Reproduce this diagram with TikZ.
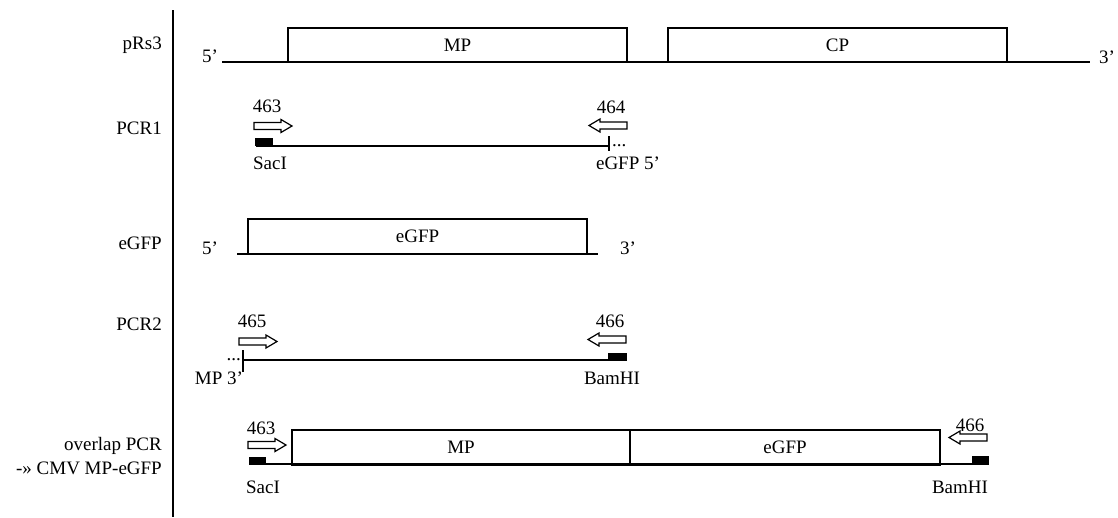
\documentclass[tikz,border=0pt]{standalone}
\usepackage{fontspec}
\setmainfont{Liberation Serif}
\begin{document}
\begin{tikzpicture}[x=1pt,y=-1pt,
  dna/.style={line width=2pt},
  box/.style={draw,line width=1.8pt,fill=white,inner sep=0pt},
  site/.style={fill=black},
  lbl/.style={inner sep=0pt,font=\fontsize{19}{22}\selectfont},
  rowlbl/.style={lbl,anchor=east},
  fwdprimer/.pic={\draw[line width=1.2pt,fill=white] (0,-3.5) -- (27,-3.5) -- (27,-6.5) -- (38,0) -- (27,6.5) -- (27,3.5) -- (0,3.5) -- cycle;},
  revprimer/.pic={\draw[line width=1.2pt,fill=white] (38,-3.5) -- (11,-3.5) -- (11,-6.5) -- (0,0) -- (11,6.5) -- (11,3.5) -- (38,3.5) -- cycle;}
]
\useasboundingbox (0,0) rectangle (1118,517);
% separator
\coordinate (vtop) at (173,10);
\coordinate (vbot) at (173,517);
\draw[line width=1.8pt] (vtop) -- (vbot);
% row labels
\node[rowlbl] (l1) at (162,45) {pRs3};
\node[rowlbl] (l2) at (162,128) {PCR1};
\node[rowlbl] (l3) at (162,243) {eGFP};
\node[rowlbl] (l4) at (162,324) {PCR2};
\node[rowlbl] (l5) at (162,446) {overlap PCR};
\node[rowlbl] (l6) at (162,468) {-» CMV MP-eGFP};

% ---- row 1: pRs3
\coordinate (r1a) at (222,62);
\coordinate (r1b) at (1090,62);
\draw[dna] (r1a) -- (r1b);
\node[box,lbl,minimum width=339pt,minimum height=34pt] (mp1) at (457.5,45) {MP};
\node[box,lbl,minimum width=339pt,minimum height=34pt] (cp1) at (837.5,45) {CP};
\node[lbl,anchor=base] (f1) at (210,62) {5’};
\node[lbl,anchor=base] (t1) at (1107,63) {3’};

% ---- row 2: PCR1
\coordinate (r2a) at (256,146);
\coordinate (r2b) at (610,146);
\draw[dna] (r2a) -- (r2b);
\fill[site] (255,138) rectangle (273,146);
\coordinate (k2a) at (609,136);
\coordinate (k2b) at (609,151);
\draw[dna] (k2a) -- (k2b);
\node[lbl,anchor=base west] (d2) at (612,146) {...};
\pic at (254,126) {fwdprimer};
\pic at (589,125.5) {revprimer};
\node[lbl] (p463a) at (267,106) {463};
\node[lbl] (p464) at (611,107) {464};
\node[lbl] (s2) at (270,163) {SacI};
\node[lbl] (e2) at (628,163) {eGFP 5’};

% ---- row 3: eGFP
\coordinate (r3a) at (237,254);
\coordinate (r3b) at (598,254);
\draw[dna] (r3a) -- (r3b);
\node[box,lbl,minimum width=339pt,minimum height=35pt] (gfp3) at (417.5,236.5) {eGFP};
\node[lbl,anchor=base] (f3) at (210,254) {5’};
\node[lbl,anchor=base] (t3) at (628,254) {3’};

% ---- row 4: PCR2
\coordinate (r4a) at (243,360);
\coordinate (r4b) at (627,360);
\draw[dna] (r4a) -- (r4b);
\coordinate (k4a) at (243,350);
\coordinate (k4b) at (243,372);
\draw[dna] (k4a) -- (k4b);
\node[lbl,anchor=base east] (d4) at (241,360) {...};
\fill[site] (608,353) rectangle (627,361);
\pic at (239,341.5) {fwdprimer};
\pic at (588,339.5) {revprimer};
\node[lbl] (p465) at (252,321) {465};
\node[lbl] (p466a) at (610,321) {466};
\node[lbl] (m4) at (219,378) {MP 3’};
\node[lbl] (b4) at (612,378) {BamHI};

% ---- row 5: overlap PCR
\coordinate (r5a) at (250,464);
\coordinate (r5b) at (989,464);
\draw[dna] (r5a) -- (r5b);
\node[box,lbl,minimum width=338pt,minimum height=34pt] (mp5) at (461,447) {MP};
\node[box,lbl,minimum width=310pt,minimum height=34pt] (gfp5) at (785,447) {eGFP};
\draw[line width=2.6pt] (mp5.south west) -- (gfp5.south east);
\fill[site] (249,457) rectangle (266,465);
\fill[site] (972,456) rectangle (989,463);
\pic at (248,445) {fwdprimer};
\pic at (949,437.5) {revprimer};
\node[lbl] (p463b) at (261,428) {463};
\node[lbl] (p466b) at (970,425) {466};
\node[lbl] (s5) at (263,487) {SacI};
\node[lbl] (b5) at (960,487) {BamHI};
\end{tikzpicture}
\end{document}
